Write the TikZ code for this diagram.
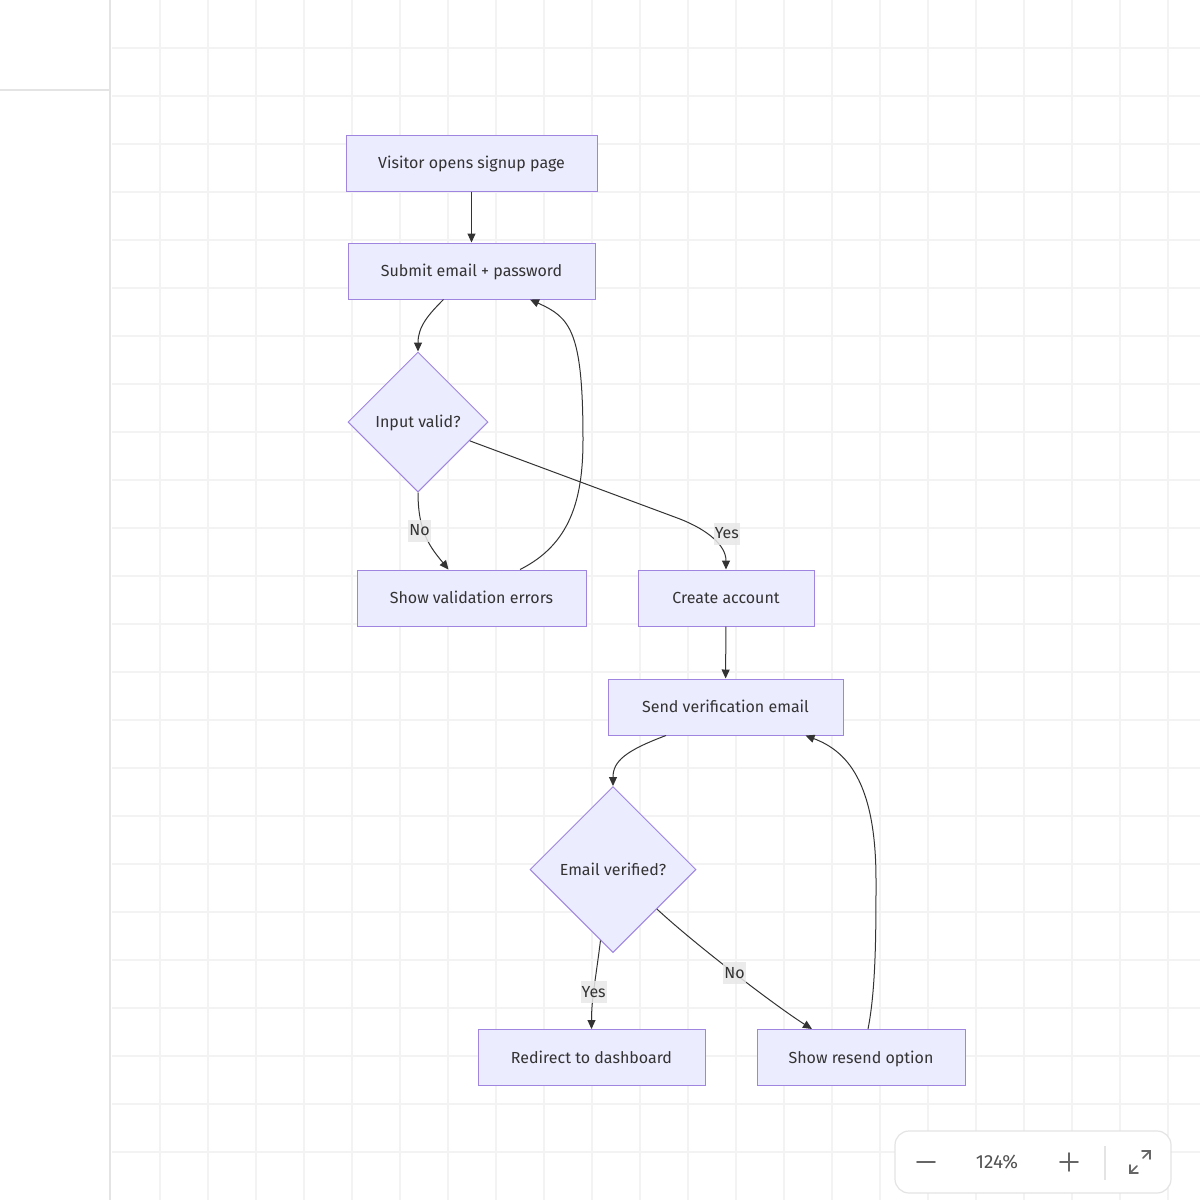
\documentclass[tikz,border=0pt]{standalone}
\usepackage{fontspec}
\setmainfont{Fira Sans}
\usetikzlibrary{arrows.meta,shapes.geometric}
\definecolor{boxfill}{HTML}{ECECFF}
\definecolor{boxline}{HTML}{9F85E0}
\definecolor{ink}{HTML}{333333}
\definecolor{gridc}{HTML}{F3F3F3}
\definecolor{panelc}{HTML}{E4E4E4}
\definecolor{labelfill}{HTML}{E8E8E8}

\begin{document}
\begin{tikzpicture}[
  x=1pt,y=-1pt,
  font=\fontsize{16}{19}\selectfont,
  >={Triangle[length=9pt,width=8pt]},
  stepbox/.style={draw=boxline,fill=boxfill,text=ink,minimum height=56pt,line width=1pt,text height=13pt,text depth=2pt},
  choice/.style={diamond,draw=boxline,fill=boxfill,text=ink,line width=1pt,inner sep=0pt,text height=13pt,text depth=2pt},
  flow/.style={->,draw=ink,line width=1pt},
  answer/.style={fill=labelfill,fill opacity=0.85,text opacity=1,text=ink,inner xsep=1pt,inner ysep=4pt,text height=12pt,text depth=2pt},
  gridrule/.style={draw=gridc,line width=1.5pt},
  uiline/.style={draw=ink!75,line width=1.6pt,line cap=round}
]
\useasboundingbox (0,0) rectangle (1200,1200);
\fill[white] (0,0) rectangle (1200,1200);

% canvas grid and side panel
\foreach \gx in {160,208,...,1168}
  \draw[gridrule] (\gx,0) -- (\gx,1200);
\foreach \gy in {48,96,...,1152}
  \draw[gridrule] (112,\gy) -- (1200,\gy);
\draw[panelc,line width=1.5pt] (110,0) -- (110,1200);
\draw[panelc,line width=1.5pt] (0,90) -- (110,90);

% signup steps
\node[stepbox,minimum width=251pt] (open) at (471.5,163) {Visitor opens signup page};
\node[stepbox,minimum width=247pt] (submit) at (471.5,271) {Submit email + password};
\node[choice,minimum width=140pt,minimum height=140pt] (valid) at (418,422) {Input valid?};
\node[stepbox,minimum width=229pt] (errors) at (471.5,598) {Show validation errors};
\node[stepbox,minimum width=176pt] (create) at (726,598) {Create account};
\node[stepbox,minimum width=235pt] (send) at (725.5,707) {Send verification email};
\node[choice,minimum width=166pt,minimum height=166pt] (verified) at (613,869.5) {Email verified?};
\node[stepbox,minimum width=227pt] (redirect) at (591.5,1057.5) {Redirect to dashboard};
\node[stepbox,minimum width=208pt] (resend) at (861,1057.5) {Show resend option};

\coordinate (backA) at (583,440);
\coordinate (backB) at (876,880);
\coordinate (yesbend) at (680,519);

\draw[flow] (open) -- (submit);
\draw[flow] ([xshift=-28pt]submit.south) .. controls +(-15,15) and +(0,-25) .. (valid.north);
\draw[flow] (valid.south) .. controls +(0,40) and +(-18,-22) .. node[answer,pos=0.4,xshift=-4pt] {No} ([xshift=-23pt]errors.north);
\draw[flow] (valid.-20) -- (yesbend) .. controls +(28,11) and +(0,-24) .. node[answer,pos=0.55,xshift=11pt,yshift=8pt] {Yes} (create.north);
\draw[flow] ([xshift=48.5pt]errors.north) .. controls +(50,-25) and +(0,60) .. (backA)
  .. controls +(0,-110) and +(40,18) .. ([xshift=58.5pt]submit.south);
\draw[flow] (create) -- (send);
\draw[flow] ([xshift=-59.5pt]send.south) .. controls +(-40,15) and +(0,-25) .. (verified.north);
\draw[flow] (verified.-100) .. controls +(-5,40) and +(0,-30) .. node[answer,pos=0.55] {Yes} (redirect.north);
\draw[flow] (verified.-42) .. controls +(40,37) and +(-35,-22) .. node[answer,pos=0.49] {No} ([xshift=-49pt]resend.north);
\draw[flow] ([xshift=7pt]resend.north) .. controls +(8,-40) and +(0,50) .. (backB)
  .. controls +(0,-100) and +(40,15) .. ([xshift=80pt]send.south);

% zoom controls
\node[draw=panelc,fill=white,rounded corners=14pt,minimum width=276pt,minimum height=62pt,line width=1.2pt] (zoombar) at (1033,1162) {};
\node[text=ink!85,font=\fontsize{19}{22}\selectfont] (zoomlevel) at (997,1162) {124\%};
\draw[uiline] (917,1162) -- (935,1162);
\draw[uiline] (1060,1162) -- (1078,1162) (1069,1153) -- (1069,1171);
\draw[panelc,line width=1.2pt] (1105,1146) -- (1105,1180);
\draw[uiline] (1130,1165) -- (1130,1173) -- (1138,1173) (1130,1173) -- (1137,1166);
\draw[uiline] (1142,1151) -- (1150,1151) -- (1150,1159) (1150,1151) -- (1143,1158);
\end{tikzpicture}
\end{document}
